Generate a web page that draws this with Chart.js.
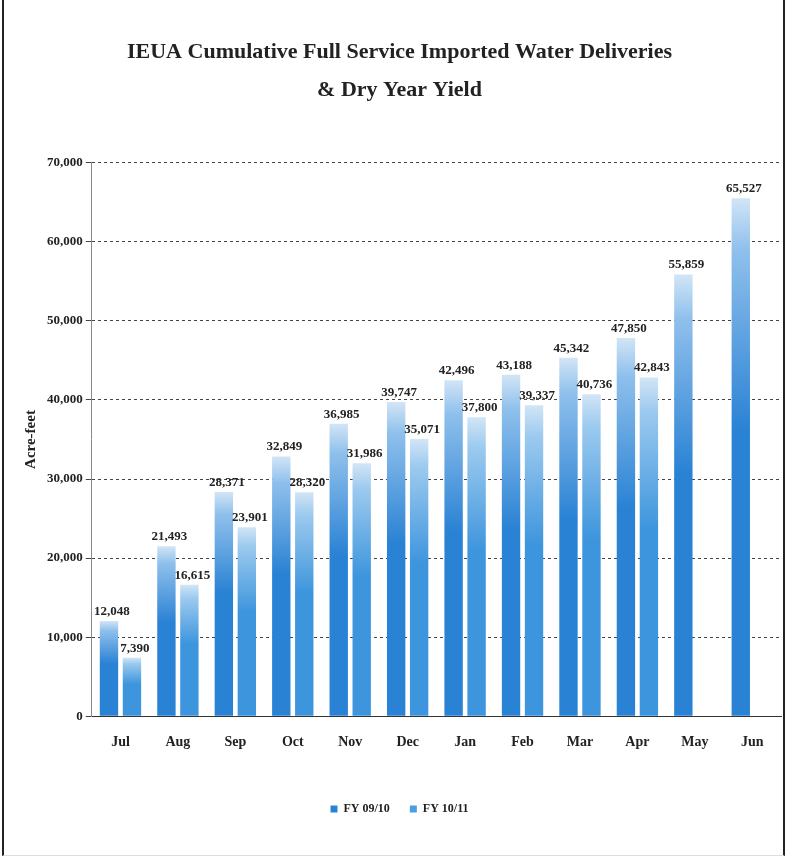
<!DOCTYPE html>
<html lang="en">
<head>
<meta charset="UTF-8">
<title>IEUA Cumulative Deliveries</title>
<script src="https://cdn.jsdelivr.net/npm/chart.js"></script>
<style>
    html, body { margin: 0; padding: 0; background: #fff; }
    .frame {
        position: absolute; left: 2px; top: 0; width: 779px; height: 855px;
        border-left: 2px solid #222; border-right: 2px solid #222; border-bottom: 1px solid #ddd;
    }
    #wrap { position: absolute; left: 4px; top: 0; width: 779px; height: 855px; }
</style>
</head>
<body>
<div class="frame"></div>
<div id="wrap"><canvas id="deliveries"></canvas></div>
<script>
    var months = ["Jul", "Aug", "Sep", "Oct", "Nov", "Dec", "Jan", "Feb", "Mar", "Apr", "May", "Jun"];
    var fy0910 = [12048, 21493, 28371, 32849, 36985, 39747, 42496, 43188, 45342, 47850, 55859, 65527];
    var fy1011 = [7390, 16615, 23901, 28320, 31986, 35071, 37800, 39337, 40736, 42843, null, null];
    var yTicks = [0, 10000, 20000, 30000, 40000, 50000, 60000, 70000];

    var serif = "'Liberation Serif', 'DejaVu Serif', serif";

    // each bar fades to a pale tint near its own top
    function barFill(dark, light) {
        return function(ctx) {
            var chart = ctx.chart;
            if (!chart.chartArea || ctx.parsed == null || ctx.parsed.y == null) return dark;
            var ys = chart.scales.y;
            var top = ys.getPixelForValue(ctx.parsed.y);
            var bottom = ys.getPixelForValue(0);
            var g = chart.ctx.createLinearGradient(0, bottom, 0, top);
            g.addColorStop(0, dark);
            g.addColorStop(0.55, dark);
            g.addColorStop(0.9, light);
            g.addColorStop(1, "#d2e5f6");
            return g;
        };
    }

    // draw value labels above each bar
    var valueLabels = {
        id: "valueLabels",
        afterDatasetsDraw: function(chart) {
            var c = chart.ctx;
            c.save();
            c.font = "bold 13px " + serif;
            c.fillStyle = "#222";
            c.textAlign = "center";
            c.textBaseline = "bottom";
            chart.data.datasets.forEach(function(ds, i) {
                chart.getDatasetMeta(i).data.forEach(function(bar, j) {
                    var v = ds.data[j];
                    if (v == null) return;
                    c.fillText(v.toLocaleString("en-US"), bar.x + 3, bar.y - 3);
                });
            });
            c.restore();
        }
    };

    new Chart(document.getElementById("deliveries"), {
        type: "bar",
        data: {
            labels: months,
            datasets: [{
                label: "FY 09/10",
                data: fy0910,
                backgroundColor: barFill("#2a82d4", "#8fc0ec"),
                borderWidth: 0
            }, {
                label: "FY 10/11",
                data: fy1011,
                backgroundColor: barFill("#3d95dd", "#9ccaef"),
                borderWidth: 0
            }]
        },
        options: {
            responsive: true,
            maintainAspectRatio: false,
            animation: false,
            layout: { padding: { left: 14, right: 2, top: 10, bottom: 30 } },
            datasets: { bar: { categoryPercentage: 0.8, barPercentage: 0.8 } },
            plugins: {
                title: {
                    display: true,
                    text: ["IEUA Cumulative Full Service Imported Water Deliveries", "& Dry Year Yield"],
                    color: "#222",
                    font: { family: serif, size: 22, weight: "bold", lineHeight: 1.7 },
                    padding: { top: 24, bottom: 54 },
                    align: "center"
                },
                legend: {
                    position: "bottom",
                    labels: {
                        boxWidth: 7, boxHeight: 7, padding: 20,
                        color: "#222",
                        font: { family: serif, size: 12, weight: "bold" },
                        generateLabels: function(chart) {
                            var cols = ["#2a82d4", "#4a9ee2"];
                            return chart.data.datasets.map(function(ds, i) {
                                return { text: ds.label, fillStyle: cols[i], strokeStyle: cols[i], lineWidth: 0, datasetIndex: i, fontColor: "#222" };
                            });
                        }
                    }
                },
                tooltip: { enabled: false }
            },
            scales: {
                x: {
                    grid: { display: false },
                    border: { color: "#333" },
                    ticks: { color: "#222", font: { family: serif, size: 14, weight: "bold" }, padding: 10 },
                    afterFit: function(axis) { axis.height += 22; }
                },
                y: {
                    min: 0, max: 70000,
                    afterBuildTicks: function(axis) {
                        axis.ticks = yTicks.map(function(v) { return { value: v }; });
                    },
                    grid: { color: "#444", lineWidth: 1, tickLength: 6, drawTicks: true },
                    border: { color: "#888", dash: [3, 3] },
                    ticks: {
                        color: "#222",
                        font: { family: serif, size: 13, weight: "bold" },
                        callback: function(v) { return v.toLocaleString("en-US"); }
                    },
                    title: {
                        display: true,
                        text: "Acre-feet",
                        color: "#222",
                        font: { family: serif, size: 15, weight: "bold" }
                    }
                }
            }
        },
        plugins: [valueLabels]
    });
</script>
</body>
</html>
